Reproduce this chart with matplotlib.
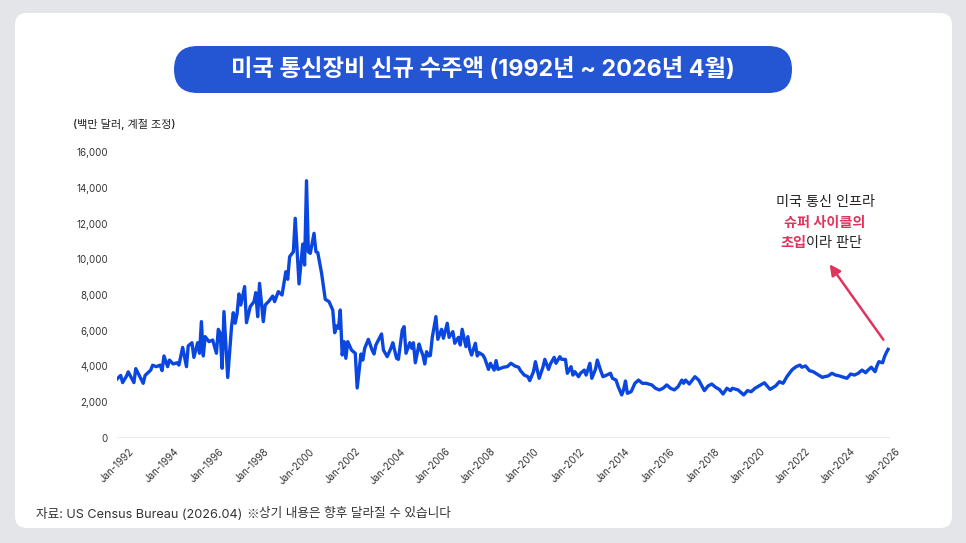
import matplotlib
matplotlib.use("Agg")
import matplotlib.pyplot as plt
import matplotlib.dates as mdates
from matplotlib.patches import FancyBboxPatch
from matplotlib.ticker import FuncFormatter
import pandas as pd

plt.rcParams['font.family'] = ['Inter', 'Noto Sans CJK KR', 'DejaVu Sans']

# monthly points (millions of dollars, seasonally adjusted)
months = [
    "1992-01", "1992-03", "1992-04", "1992-06", "1992-07", "1992-10", "1992-11",
    "1993-03", "1993-04", "1993-07", "1993-08", "1993-10", "1993-12",
    "1994-01", "1994-02", "1994-04", "1994-05", "1994-07", "1994-09", "1994-10", "1994-12",
    "1995-02", "1995-03", "1995-05", "1995-06", "1995-08", "1995-09", "1995-10", "1995-11", "1995-12",
    "1996-02", "1996-04", "1996-06", "1996-07", "1996-08", "1996-09", "1996-10", "1996-12",
    "1997-02", "1997-03", "1997-04", "1997-05", "1997-06", "1997-07", "1997-09", "1997-10", "1997-12",
    "1998-02", "1998-03", "1998-04", "1998-05", "1998-07", "1998-08", "1998-10", "1998-12",
    "1999-01", "1999-03", "1999-05", "1999-07", "1999-08", "1999-09", "1999-11", "1999-12",
    "2000-02", "2000-04", "2000-05", "2000-06", "2000-07", "2000-08", "2000-10", "2000-11", "2000-12",
    "2001-02", "2001-04", "2001-06", "2001-08", "2001-09", "2001-10", "2001-11", "2001-12",
    "2002-01", "2002-02", "2002-03", "2002-04", "2002-06", "2002-08", "2002-09", "2002-11", "2002-12",
    "2003-01", "2003-03", "2003-05", "2003-06", "2003-07", "2003-10", "2003-11",
    "2004-01", "2004-03", "2004-04", "2004-06", "2004-07", "2004-09", "2004-10", "2004-11",
    "2005-01", "2005-02", "2005-03", "2005-04", "2005-06", "2005-07", "2005-08", "2005-09", "2005-10", "2005-11", "2005-12",
    "2006-01", "2006-03", "2006-04", "2006-06", "2006-07", "2006-09", "2006-10", "2006-12",
    "2007-01", "2007-03", "2007-04", "2007-05", "2007-07", "2007-08", "2007-09", "2007-10", "2007-12",
    "2008-01", "2008-02", "2008-04", "2008-05", "2008-07", "2008-08", "2008-10", "2008-11", "2008-12",
    "2009-03", "2009-05", "2009-07", "2009-09", "2009-11", "2009-12",
    "2010-02", "2010-04", "2010-05", "2010-07", "2010-08", "2010-10", "2010-12",
    "2011-01", "2011-03", "2011-04", "2011-06", "2011-07", "2011-09", "2011-10", "2011-12",
    "2012-01", "2012-03", "2012-04", "2012-05", "2012-07", "2012-08", "2012-10", "2012-11",
    "2013-01", "2013-02", "2013-04", "2013-05", "2013-07", "2013-08", "2013-10", "2013-12",
    "2014-01", "2014-03", "2014-04", "2014-06", "2014-07", "2014-08", "2014-09", "2014-11",
    "2015-01", "2015-03", "2015-05", "2015-07", "2015-10", "2015-12",
    "2016-02", "2016-04", "2016-06", "2016-08", "2016-10", "2016-12",
    "2017-02", "2017-03", "2017-04", "2017-06", "2017-09", "2017-11",
    "2018-01", "2018-02", "2018-04", "2018-06", "2018-08", "2018-10", "2018-12",
    "2019-02", "2019-04", "2019-05", "2019-08", "2019-11",
    "2020-01", "2020-03", "2020-05", "2020-08", "2020-10",
    "2021-01", "2021-04", "2021-06", "2021-08", "2021-10", "2021-12",
    "2022-01", "2022-03", "2022-05", "2022-06", "2022-08", "2022-10", "2022-12",
    "2023-02", "2023-05", "2023-06", "2023-08", "2023-10", "2023-12",
    "2024-02", "2024-06", "2024-08", "2024-10", "2024-12",
    "2025-02", "2025-04", "2025-05", "2025-07", "2025-09", "2025-10", "2025-11",
    "2026-01", "2026-02", "2026-03", "2026-04",
]
orders = [
    3300, 3500, 3100, 3450, 3700, 3100, 3880,
    3060, 3500, 3800, 4070, 3990, 4080,
    3770, 4590, 3990, 4360, 4140, 4210, 4080, 5070,
    3990, 5150, 5330, 4510, 5330, 4740, 6510, 4590, 5670,
    5390, 5480, 4740, 6080, 5860, 3900, 7070, 3390,
    6230, 7010, 6420, 6940, 8060, 7440, 8470, 6450, 7350,
    7630, 8130, 6790, 8650, 6510, 7440, 7660, 7940,
    7630, 8190, 8000, 9300, 8880, 10140, 10420, 12290,
    8620, 10850, 9680, 14390, 10420, 10330, 11450, 10420, 10370,
    9210, 7760, 7630, 7160, 5890, 6270, 6140, 7160,
    4640, 5390, 4460, 5390, 4920, 4740, 2800, 4700, 4360,
    5020, 5520, 4920, 4700, 5200, 5820, 4920,
    4550, 5020, 5330, 4460, 4400, 6040, 6230, 4740,
    5330, 5020, 5330, 4210, 5260, 4920, 4640, 4140, 4830, 4590, 4620,
    5630, 6790, 5520, 6080, 5580, 6420, 5630, 5950,
    5300, 5630, 5200, 6080, 5110, 5670, 4960, 4640, 5300,
    4590, 4770, 4640, 4460, 3840, 4180, 3800, 4330, 3840,
    3960, 3990, 4180, 4030, 3960, 3770,
    3520, 3430, 3210, 3710, 4270, 3340, 3960,
    4400, 3840, 4140, 4510, 4180, 4550, 4400, 4400,
    3620, 3990, 3520, 3710, 3430, 3620, 3800, 3520,
    4180, 3340, 3840, 4360, 3710, 3430, 3520, 3620,
    3340, 3240, 2910, 2410, 2690, 3190, 2500, 2590,
    3060, 3240, 3060, 3060, 2970, 2780,
    2690, 2780, 2970, 2780, 2690, 2870,
    3240, 3060, 3240, 3020, 3430, 3240,
    2840, 2650, 2910, 3020, 2840, 2720, 2460,
    2780, 2650, 2780, 2690, 2410,
    2650, 2590, 2780, 2970, 3090,
    2720, 2910, 3150, 3060, 3430, 3710,
    3840, 3990, 4080, 3960, 4030, 3770, 3710,
    3580, 3390, 3430, 3470, 3620, 3520,
    3470, 3340, 3580, 3520, 3620,
    3800, 3650, 3770, 3960, 3710, 4030, 4270,
    4210, 4550, 4770, 4960,
]
tick_years = list(range(1992, 2027, 2))
y_ticks = [0, 2000, 4000, 6000, 8000, 10000, 12000, 14000, 16000]

W, H = 966, 543
fig = plt.figure(figsize=(W / 100, H / 100), dpi=100)
fig.patch.set_facecolor("#e4e5e9")

# background layer in pixel coords
bg = fig.add_axes([0, 0, 1, 1])
bg.set_xlim(0, W)
bg.set_ylim(H, 0)
bg.axis("off")
bg.add_patch(FancyBboxPatch((15, 13), 937, 515, boxstyle="round,pad=0,rounding_size=12",
                            fc="white", ec="none"))
bg.add_patch(FancyBboxPatch((174, 46), 618, 47, boxstyle="round,pad=0,rounding_size=23.5",
                            fc="#2456d3", ec="none"))
bg.text(483, 70, "미국 통신장비 신규 수주액 (1992년 ~ 2026년 4월)", color="white",
        fontsize=16.8, fontweight="bold", ha="center", va="center")
bg.text(73, 124, "(백만 달러, 계절 조정)", color="#222222", fontsize=8,
        fontweight="medium", ha="left", va="center")

# footer, the ※ sign comes from the CJK font
f1 = bg.text(36, 514, "자료: US Census Bureau (2026.04)", color="#333333", fontsize=9.1,
             ha="left", va="center")
f2 = bg.annotate("※", xy=(1, 0.5), xycoords=f1, xytext=(3, 0), textcoords="offset points",
                 color="#333333", fontsize=9.1, ha="left", va="center",
                 family=["Noto Sans CJK KR"])
bg.annotate("상기 내용은 향후 달라질 수 있습니다", xy=(1, 0.5), xycoords=f2, color="#333333",
            fontsize=9.1, ha="left", va="center")

# annotation
pink = "#e0345f"
bg.text(825, 202, "미국 통신 인프라", color="#222222", fontsize=10.2, ha="center", va="center")
bg.text(825, 223, "슈퍼 사이클의", color=pink, fontsize=10.2, fontweight="bold",
        ha="center", va="center")
t3 = bg.text(780, 243, "초입", color=pink, fontsize=10.2, fontweight="bold", ha="left", va="center")
bg.annotate("이라 판단", xy=(1, 0.5), xycoords=t3, color="#222222", fontsize=10.2,
            ha="left", va="center")
bg.annotate("", xy=(828, 262), xytext=(885, 342),
            arrowprops=dict(arrowstyle="-|>", color=pink, lw=1.8, mutation_scale=16))

# chart
x0, x1, y0, y1 = 117, 890, 152, 438
ax = fig.add_axes([x0 / W, (H - y1) / H, (x1 - x0) / W, (y1 - y0) / H])
ax.patch.set_alpha(0)
dates = pd.to_datetime(months)
ax.plot(dates, orders, color="#0a47e0", lw=2.4, solid_joinstyle="round", zorder=3)
ax.axhline(0, color="#e9e9ec", lw=2, zorder=1)

ax.set_xlim(pd.Timestamp("1992-01-01"), pd.Timestamp("2026-05-01"))
ax.set_ylim(0, 16000)
ax.set_yticks(y_ticks)
ax.yaxis.set_major_formatter(FuncFormatter(lambda v, p: f"{int(v):,}"))
ax.set_xticks([pd.Timestamp(f"{y}-01-01") for y in tick_years])
ax.xaxis.set_major_formatter(mdates.DateFormatter("Jan-%Y"))
for lbl in ax.get_xticklabels():
    lbl.set_rotation(45)
    lbl.set_ha("center")
ax.tick_params(axis="both", length=0, labelsize=7, labelcolor="#333333")
ax.tick_params(axis="y", pad=6.5)
ax.tick_params(axis="x", pad=6)
for s in ax.spines.values():
    s.set_visible(False)

fig.savefig("out.png", dpi=100, facecolor=fig.get_facecolor())
